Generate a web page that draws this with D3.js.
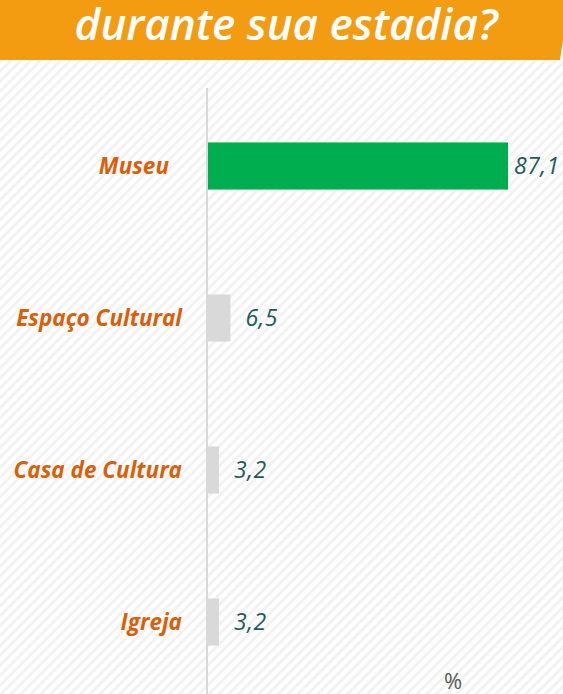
<!DOCTYPE html>
<html>
<head>
<meta charset="utf-8">
<script src="https://cdn.jsdelivr.net/npm/d3@7"></script>
<style>
  html, body { margin: 0; padding: 0; background: #ffffff; overflow: hidden; }
  svg { display: block; }
</style>
</head>
<body>
<div id="chart"></div>
<script>
// Places visited during the stay (% of respondents)
const categories = ["Museu", "Espaço Cultural", "Casa de Cultura", "Igreja"];
const values = [87.1, 6.5, 3.2, 3.2];
const valueLabels = ["87,1", "6,5", "3,2", "3,2"];
const barColors = ["#00AE50", "#D9D9D9", "#D9D9D9", "#D9D9D9"];
const titleText = "durante sua estadia?";
const unitText = "%";

const W = 563, H = 694;
const FONT = "'Open Sans', 'Noto Sans', sans-serif";
const svg = d3.select("#chart").append("svg")
  .attr("width", W).attr("height", H);

// diagonal hatch background
const defs = svg.append("defs");
const pat = defs.append("pattern")
  .attr("id", "hatch")
  .attr("patternUnits", "userSpaceOnUse")
  .attr("width", 7).attr("height", 7)
  .attr("patternTransform", "rotate(45)");
pat.append("rect").attr("width", 7).attr("height", 7).attr("fill", "#ffffff");
pat.append("rect").attr("x", 0).attr("width", 3).attr("height", 7).attr("fill", "#f2f2f2");

svg.append("rect").attr("width", W).attr("height", H).attr("fill", "url(#hatch)");

// title banner
svg.append("path")
  .attr("d", "M0,0 H563 V40 L560,60 H0 Z")
  .attr("fill", "#F39C12");
svg.append("text")
  .attr("x", 286).attr("y", 40)
  .attr("text-anchor", "middle")
  .attr("fill", "#ffffff")
  .style("font-family", FONT)
  .style("font-weight", "600")
  .style("font-style", "italic")
  .style("font-size", "44px")
  .text(titleText);

// scales
const x = d3.scaleLinear().domain([0, 87.1]).range([208, 508]);
const y = d3.scaleBand().domain(categories).range([90, 698]).paddingInner(0.69).paddingOuter(0.345);

// category axis line
svg.append("line")
  .attr("x1", 207).attr("x2", 207)
  .attr("y1", 88).attr("y2", H)
  .attr("stroke", "#D9D9D9").attr("stroke-width", 2);

const rows = categories.map((c, i) => ({ c, v: values[i], label: valueLabels[i], color: barColors[i], lead: i === 0 }));

svg.selectAll("rect.bar").data(rows).join("rect")
  .attr("class", "bar")
  .attr("x", x(0))
  .attr("y", d => y(d.c))
  .attr("width", d => x(d.v) - x(0))
  .attr("height", y.bandwidth())
  .attr("fill", d => d.color);

// category labels (the leading item sits a little further from the axis)
svg.selectAll("text.cat").data(rows).join("text")
  .attr("class", "cat")
  .attr("x", d => d.lead ? 169 : 182)
  .attr("y", d => y(d.c) + y.bandwidth() / 2)
  .attr("dy", "0.35em")
  .attr("text-anchor", "end")
  .attr("fill", "#D9600A")
  .style("font-family", FONT)
  .style("font-weight", "bold")
  .style("font-style", "italic")
  .style("font-size", "22.5px")
  .text(d => d.c);

// value labels
svg.selectAll("text.val").data(rows).join("text")
  .attr("class", "val")
  .attr("x", d => x(d.v) + (d.v > 50 ? 6 : 15))
  .attr("y", d => y(d.c) + y.bandwidth() / 2)
  .attr("dy", "0.35em")
  .attr("fill", "#1D5B5B")
  .style("font-family", FONT)
  .style("font-style", "italic")
  .style("font-size", "23px")
  .style("letter-spacing", "0.5px")
  .text(d => d.label);

// unit label
svg.append("text")
  .attr("x", 453).attr("y", 689)
  .attr("text-anchor", "middle")
  .attr("fill", "#595959")
  .style("font-family", FONT)
  .style("font-size", "22px")
  .text(unitText);
</script>
</body>
</html>
